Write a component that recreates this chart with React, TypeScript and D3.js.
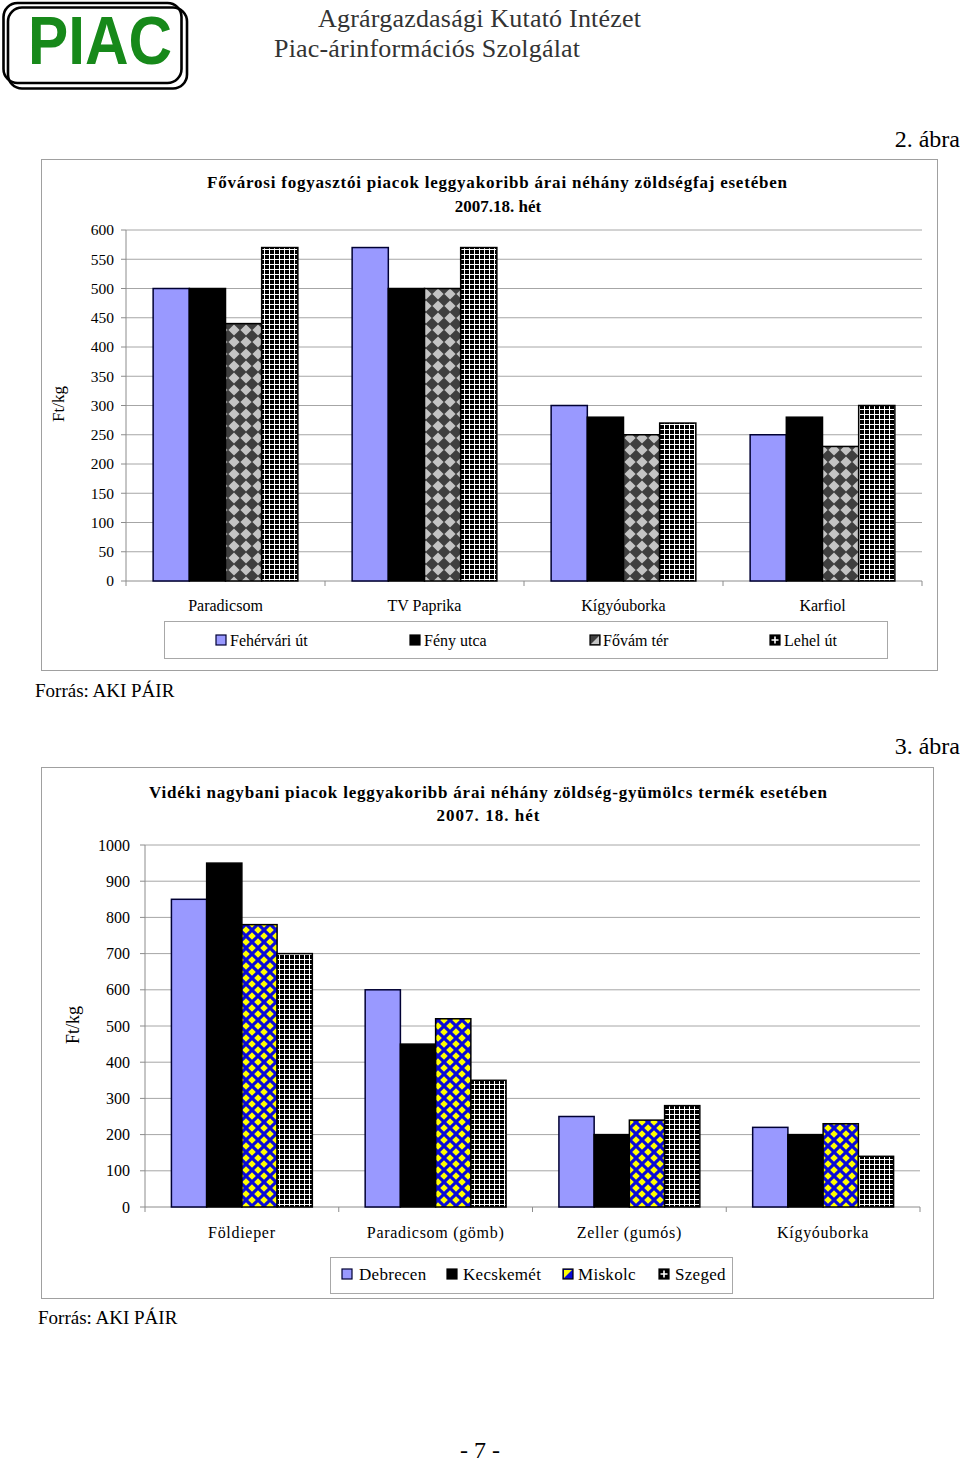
import React from 'react';
import * as d3 from 'd3';

// ---------- DATA ----------
const categories1 = ['Paradicsom', 'TV Paprika', 'Kígyóuborka', 'Karfiol'];
const seriesNames1 = ['Fehérvári út', 'Fény utca', 'Fővám tér', 'Lehel út'];
const fehervariUt = [500, 570, 300, 250];
const fenyUtca = [500, 500, 280, 280];
const fovamTer = [440, 500, 250, 230];
const lehelUt = [570, 570, 270, 300];
const ticks1 = [0, 50, 100, 150, 200, 250, 300, 350, 400, 450, 500, 550, 600];

const categories2 = ['Földieper', 'Paradicsom (gömb)', 'Zeller (gumós)', 'Kígyóuborka'];
const seriesNames2 = ['Debrecen', 'Kecskemét', 'Miskolc', 'Szeged'];
const debrecen = [850, 600, 250, 220];
const kecskemet = [950, 450, 200, 200];
const miskolc = [780, 520, 240, 230];
const szeged = [700, 350, 280, 140];
const ticks2 = [0, 100, 200, 300, 400, 500, 600, 700, 800, 900, 1000];

const SERIF = '"Liberation Serif", "Times New Roman", serif';
const SANS = '"Liberation Sans", Arial, sans-serif';
const GRID = '#a6a6a6';

type ChartProps = {
  categories: string[];
  seriesNames: string[];
  values: number[][];
  fills: string[];
  strokes: string[];
  ticks: number[];
  yMax: number;
  x0: number; x1: number; yTop: number; yBottom: number;
  tickFont: number; catFont: number; catLetter: number; catBaseline: number;
  tickRight: number;
};

function BarChart(p: ChartProps) {
  const y = d3.scaleLinear().domain([0, p.yMax]).range([p.yBottom, p.yTop]);
  const xg = d3.scaleBand<string>().domain(p.categories).range([p.x0, p.x1]).padding(0);
  const bw = xg.bandwidth();
  const half = (bw * 0.75) / 5.5;
  const xs = d3.scaleBand<string>().domain(p.seriesNames).range([half, bw - half]).padding(0);
  const bounds = p.categories.map((c) => xg(c) as number).concat([p.x1]);
  return (
    <g>
      {p.ticks.map((t) => (
        <g key={t}>
          <line x1={p.x0} x2={p.x1} y1={y(t)} y2={y(t)} stroke={t === 0 ? '#8c8c8c' : GRID} strokeWidth={1} />
          <line x1={p.x0 - 5} x2={p.x0} y1={y(t)} y2={y(t)} stroke="#8c8c8c" strokeWidth={1} />
          <text x={p.tickRight} y={y(t)} dy="0.35em" textAnchor="end" fontFamily={SERIF} fontSize={p.tickFont} fill="#000">{t}</text>
        </g>
      ))}
      <line x1={p.x0} x2={p.x0} y1={p.yTop} y2={p.yBottom} stroke="#8c8c8c" strokeWidth={1} />
      {bounds.map((b, i) => (
        <line key={'b' + i} x1={b} x2={b} y1={p.yBottom} y2={p.yBottom + 5} stroke="#8c8c8c" strokeWidth={1} />
      ))}
      {p.categories.map((c, ci) => (
        <g key={c}>
          {p.seriesNames.map((s, si) => {
            const v = p.values[si][ci];
            const bx = (xg(c) as number) + (xs(s) as number);
            return (
              <rect key={s} x={bx} y={y(v)} width={xs.bandwidth()} height={y(0) - y(v)}
                fill={p.fills[si]} stroke={p.strokes[si]} strokeWidth={1.5} />
            );
          })}
          <text x={(xg(c) as number) + bw / 2} y={p.catBaseline} textAnchor="middle" fontFamily={SERIF}
            fontSize={p.catFont} letterSpacing={p.catLetter}>{c}</text>
        </g>
      ))}
    </g>
  );
}

export default function App() {
  return (
    <svg width={960} height={1462} style={{ position: 'absolute', left: 0, top: 0, background: '#fff' }}>
      <defs>
        <pattern id="fovam" width={12} height={12} patternUnits="userSpaceOnUse">
          <rect width={12} height={12} fill="#3f3f3f" />
          <polygon points="6,0.4 11.6,6 6,11.6 0.4,6" fill="#c4c4c4" />
        </pattern>
        <pattern id="grid" width={5} height={5} patternUnits="userSpaceOnUse">
          <rect width={5} height={5} fill="#ffffff" />
          <rect x={0} y={0} width={4} height={4} fill="#000" />
        </pattern>
        <pattern id="miskolc" width={12} height={12} patternUnits="userSpaceOnUse">
          <rect width={12} height={12} fill="#0a0ad8" />
          <polygon points="6,2.2 9.8,6 6,9.8 2.2,6" fill="#ffff00" />
          <polygon points="0,0 3.8,0 0,3.8" fill="#ffff00" />
          <polygon points="12,0 8.2,0 12,3.8" fill="#ffff00" />
          <polygon points="0,12 3.8,12 0,8.2" fill="#ffff00" />
          <polygon points="12,12 8.2,12 12,8.2" fill="#ffff00" />
        </pattern>
      </defs>

      {/* Header */}
      <rect x={3.5} y={3} width={178} height={80} rx={14} fill="none" stroke="#000" strokeWidth={2.6} />
      <rect x={8} y={7.5} width={179} height={81} rx={14} fill="none" stroke="#000" strokeWidth={2.6} />
      <text x={28} y={64} fontFamily={SANS} fontWeight="bold" fontSize={68} fill="#17891a"
        textLength={144} lengthAdjust="spacingAndGlyphs">PIAC</text>
      <text x={318} y={27} fontFamily={SERIF} fontSize={26} fill="#333" textLength={323}>Agrárgazdasági Kutató Intézet</text>
      <text x={274} y={57} fontFamily={SERIF} fontSize={26} fill="#333" textLength={306}>Piac-árinformációs Szolgálat</text>

      {/* Chart 1 */}
      <text x={960} y={147} textAnchor="end" fontFamily={SERIF} fontSize={24}>2. ábra</text>
      <rect x={41.5} y={159.5} width={896} height={511} fill="#fff" stroke="#a0a0a0" strokeWidth={1} />
      <text x={497} y={188} textAnchor="middle" fontFamily={SERIF} fontWeight="bold" fontSize={17}
        textLength={580}>Fővárosi fogyasztói piacok leggyakoribb árai néhány zöldségfaj esetében</text>
      <text x={498} y={212} textAnchor="middle" fontFamily={SERIF} fontWeight="bold" fontSize={17}>2007.18. hét</text>
      <text transform="translate(64,404) rotate(-90)" textAnchor="middle" fontFamily={SERIF} fontSize={17}>Ft/kg</text>
      <BarChart
        categories={categories1}
        seriesNames={seriesNames1}
        values={[fehervariUt, fenyUtca, fovamTer, lehelUt]}
        fills={['#9999ff', '#000000', 'url(#fovam)', 'url(#grid)']}
        strokes={['#000033', '#000', '#000', '#000']}
        ticks={ticks1}
        yMax={600}
        x0={126} x1={922} yTop={230} yBottom={581}
        tickFont={15.5} catFont={16} catLetter={0} catBaseline={611} tickRight={114}
      />
      {/* Legend 1 */}
      <rect x={164.5} y={621.5} width={723} height={37} fill="#fff" stroke="#a8a8a8" strokeWidth={1} />
      <rect x={216} y={635} width={10} height={10} fill="#9999ff" stroke="#000033" strokeWidth={1.2} />
      <text x={230} y={645.5} fontFamily={SERIF} fontSize={16}>{seriesNames1[0]}</text>
      <rect x={410} y={635} width={10} height={10} fill="#000" stroke="#000" strokeWidth={1.2} />
      <text x={424} y={645.5} fontFamily={SERIF} fontSize={16}>{seriesNames1[1]}</text>
      <rect x={590} y={635} width={10} height={10} fill="#3f3f3f" stroke="#000" strokeWidth={1.2} />
      <polygon points="591,644 599,636 599,644" fill="#c4c4c4" />
      <text x={603} y={645.5} fontFamily={SERIF} fontSize={16}>{seriesNames1[2]}</text>
      <rect x={770} y={635} width={10} height={10} fill="#000" stroke="#000" strokeWidth={1.2} />
      <path d="M775,636.5 V643.5 M771.5,640 H778.5" stroke="#fff" strokeWidth={1.6} />
      <text x={784} y={645.5} fontFamily={SERIF} fontSize={16}>{seriesNames1[3]}</text>

      <text x={35} y={697} fontFamily={SERIF} fontSize={19}>Forrás: AKI PÁIR</text>

      {/* Chart 2 */}
      <text x={960} y={754} textAnchor="end" fontFamily={SERIF} fontSize={24}>3. ábra</text>
      <rect x={41.5} y={767.5} width={892} height={531} fill="#fff" stroke="#a0a0a0" strokeWidth={1} />
      <text x={488} y={798} textAnchor="middle" fontFamily={SERIF} fontWeight="bold" fontSize={17}
        textLength={678}>Vidéki nagybani piacok leggyakoribb árai néhány zöldség-gyümölcs termék esetében</text>
      <text x={488} y={821} textAnchor="middle" fontFamily={SERIF} fontWeight="bold" fontSize={17}
        textLength={103}>2007. 18. hét</text>
      <text transform="translate(79,1025) rotate(-90)" textAnchor="middle" fontFamily={SERIF} fontSize={18}>Ft/kg</text>
      <BarChart
        categories={categories2}
        seriesNames={seriesNames2}
        values={[debrecen, kecskemet, miskolc, szeged]}
        fills={['#9999ff', '#000000', 'url(#miskolc)', 'url(#grid)']}
        strokes={['#000033', '#000', '#000', '#000']}
        ticks={ticks2}
        yMax={1000}
        x0={145} x1={920} yTop={845} yBottom={1207}
        tickFont={16} catFont={16} catLetter={0.7} catBaseline={1238} tickRight={130}
      />
      {/* Legend 2 */}
      <rect x={330.5} y={1257.5} width={402} height={36} fill="#fff" stroke="#a8a8a8" strokeWidth={1} />
      <rect x={342} y={1269} width={10} height={10} fill="#9999ff" stroke="#000033" strokeWidth={1.2} />
      <text x={359} y={1280} fontFamily={SERIF} fontSize={17} letterSpacing={0.3}>{seriesNames2[0]}</text>
      <rect x={447} y={1269} width={10} height={10} fill="#000" stroke="#000" strokeWidth={1.2} />
      <text x={463} y={1280} fontFamily={SERIF} fontSize={17} letterSpacing={0.3}>{seriesNames2[1]}</text>
      <rect x={563} y={1269} width={10} height={10} fill="#0a0ad8" stroke="#000" strokeWidth={1.2} />
      <polygon points="564,1270 572,1270 564,1278" fill="#ffff00" />
      <text x={578} y={1280} fontFamily={SERIF} fontSize={17} letterSpacing={0.3}>{seriesNames2[2]}</text>
      <rect x={659} y={1269} width={10} height={10} fill="#000" stroke="#000" strokeWidth={1.2} />
      <path d="M664,1270.5 V1277.5 M660.5,1274 H667.5" stroke="#fff" strokeWidth={1.6} />
      <text x={675} y={1280} fontFamily={SERIF} fontSize={17} letterSpacing={0.3}>{seriesNames2[3]}</text>

      <text x={38} y={1324} fontFamily={SERIF} fontSize={19}>Forrás: AKI PÁIR</text>

      <text x={480} y={1458} textAnchor="middle" fontFamily={SERIF} fontSize={24}>- 7 -</text>
    </svg>
  );
}
